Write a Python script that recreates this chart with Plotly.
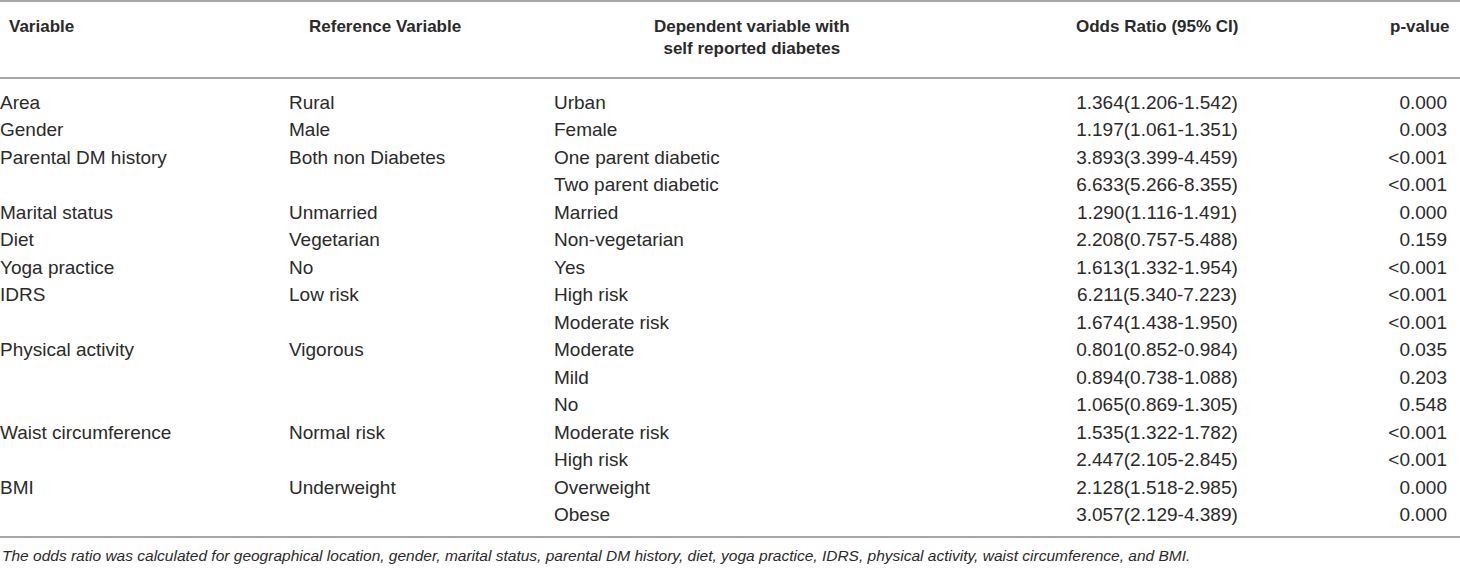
"""
Odds ratios for self reported diabetes, drawn as a plain ruled table.
"""

import plotly.graph_objects as go

# ---- table content -------------------------------------------------------
header_cols = ["Variable", "Reference Variable",
               "Dependent variable with<br>self reported diabetes",
               "Odds Ratio (95% CI)", "p-value"]

variables = ["Area", "Gender", "Parental DM history", "", "Marital status",
             "Diet", "Yoga practice", "IDRS", "", "Physical activity", "", "",
             "Waist circumference", "", "BMI", ""]
reference = ["Rural", "Male", "Both non Diabetes", "", "Unmarried",
             "Vegetarian", "No", "Low risk", "", "Vigorous", "", "",
             "Normal risk", "", "Underweight", ""]
dependent = ["Urban", "Female", "One parent diabetic", "Two parent diabetic",
             "Married", "Non-vegetarian", "Yes", "High risk", "Moderate risk",
             "Moderate", "Mild", "No", "Moderate risk", "High risk",
             "Overweight", "Obese"]
odds_ratio = [1.364, 1.197, 3.893, 6.633, 1.290, 2.208, 1.613, 6.211, 1.674,
              0.801, 0.894, 1.065, 1.535, 2.447, 2.128, 3.057]
ci_low = [1.206, 1.061, 3.399, 5.266, 1.116, 0.757, 1.332, 5.340, 1.438,
          0.852, 0.738, 0.869, 1.322, 2.105, 1.518, 2.129]
ci_high = [1.542, 1.351, 4.459, 8.355, 1.491, 5.488, 1.954, 7.223, 1.950,
           0.984, 1.088, 1.305, 1.782, 2.845, 2.985, 4.389]
p_values = ["0.000", "0.003", "<0.001", "<0.001", "0.000", "0.159", "<0.001",
            "<0.001", "<0.001", "0.035", "0.203", "0.548", "<0.001", "<0.001",
            "0.000", "0.000"]

footnote = ("The odds ratio was calculated for geographical location, gender, "
            "marital status, parental DM history, diet, yoga practice, IDRS, "
            "physical activity, waist circumference, and BMI.")

odds_text = ["{:.3f}({:.3f}-{:.3f})".format(o, l, h)
             for o, l, h in zip(odds_ratio, ci_low, ci_high)]

# ---- layout constants (pixel units) --------------------------------------
W, H = 1460, 570
FONT = "Liberation Sans, Arial, Helvetica, sans-serif"
TEXT_COLOR = "#2a2a2a"
RULE_COLOR = "#a6a6a6"
first_row, row_h = 104, 27.5
rows_y = [first_row + i * row_h for i in range(len(dependent))]

# x anchor and alignment of each column: (anchor x, textposition)
data_cols = [
    (variables, 0, "middle right"),
    (reference, 289, "middle right"),
    (dependent, 554, "middle right"),
    (odds_text, 1157, "middle center"),
    (p_values, 1447, "middle left"),
]
header_pos = [(7, "left"), (385, "center"), (752, "center"),
              (1157, "center"), (1452, "right")]

fig = go.Figure()

for col, x0, pos in data_cols:
    fig.add_trace(go.Scatter(
        x=[x0] * len(col), y=rows_y, text=col, mode="text",
        textposition=pos, hoverinfo="skip", showlegend=False,
        cliponaxis=False,
        textfont=dict(family=FONT, size=19, color=TEXT_COLOR),
    ))

for label, (x0, anchor) in zip(header_cols, header_pos):
    fig.add_annotation(
        x=x0, y=15, yanchor="top", xanchor=anchor, text="<b>" + label + "</b>",
        align="center", showarrow=False,
        font=dict(family=FONT, size=17, color=TEXT_COLOR),
    )

fig.add_annotation(
    x=0, y=555, xanchor="left", yanchor="middle", text="<i>" + footnote + "</i>",
    showarrow=False, font=dict(family=FONT, size=15.5, color=TEXT_COLOR),
)

# horizontal rules: top, under header, bottom
for y0 in [1, 78, 537]:
    fig.add_shape(type="line", x0=0, x1=W, y0=y0, y1=y0,
                  line=dict(color=RULE_COLOR, width=2))

fig.update_layout(
    width=W, height=H,
    margin=dict(l=0, r=0, t=0, b=0),
    paper_bgcolor="white", plot_bgcolor="white",
    xaxis=dict(range=[0, W], visible=False, fixedrange=True),
    yaxis=dict(range=[H, 0], visible=False, fixedrange=True),
)

# drop the page's default body margin so the figure sits at the corner
fig.write_html("out.html", config={"displayModeBar": False},
               post_script="document.body.style.margin='0';")
